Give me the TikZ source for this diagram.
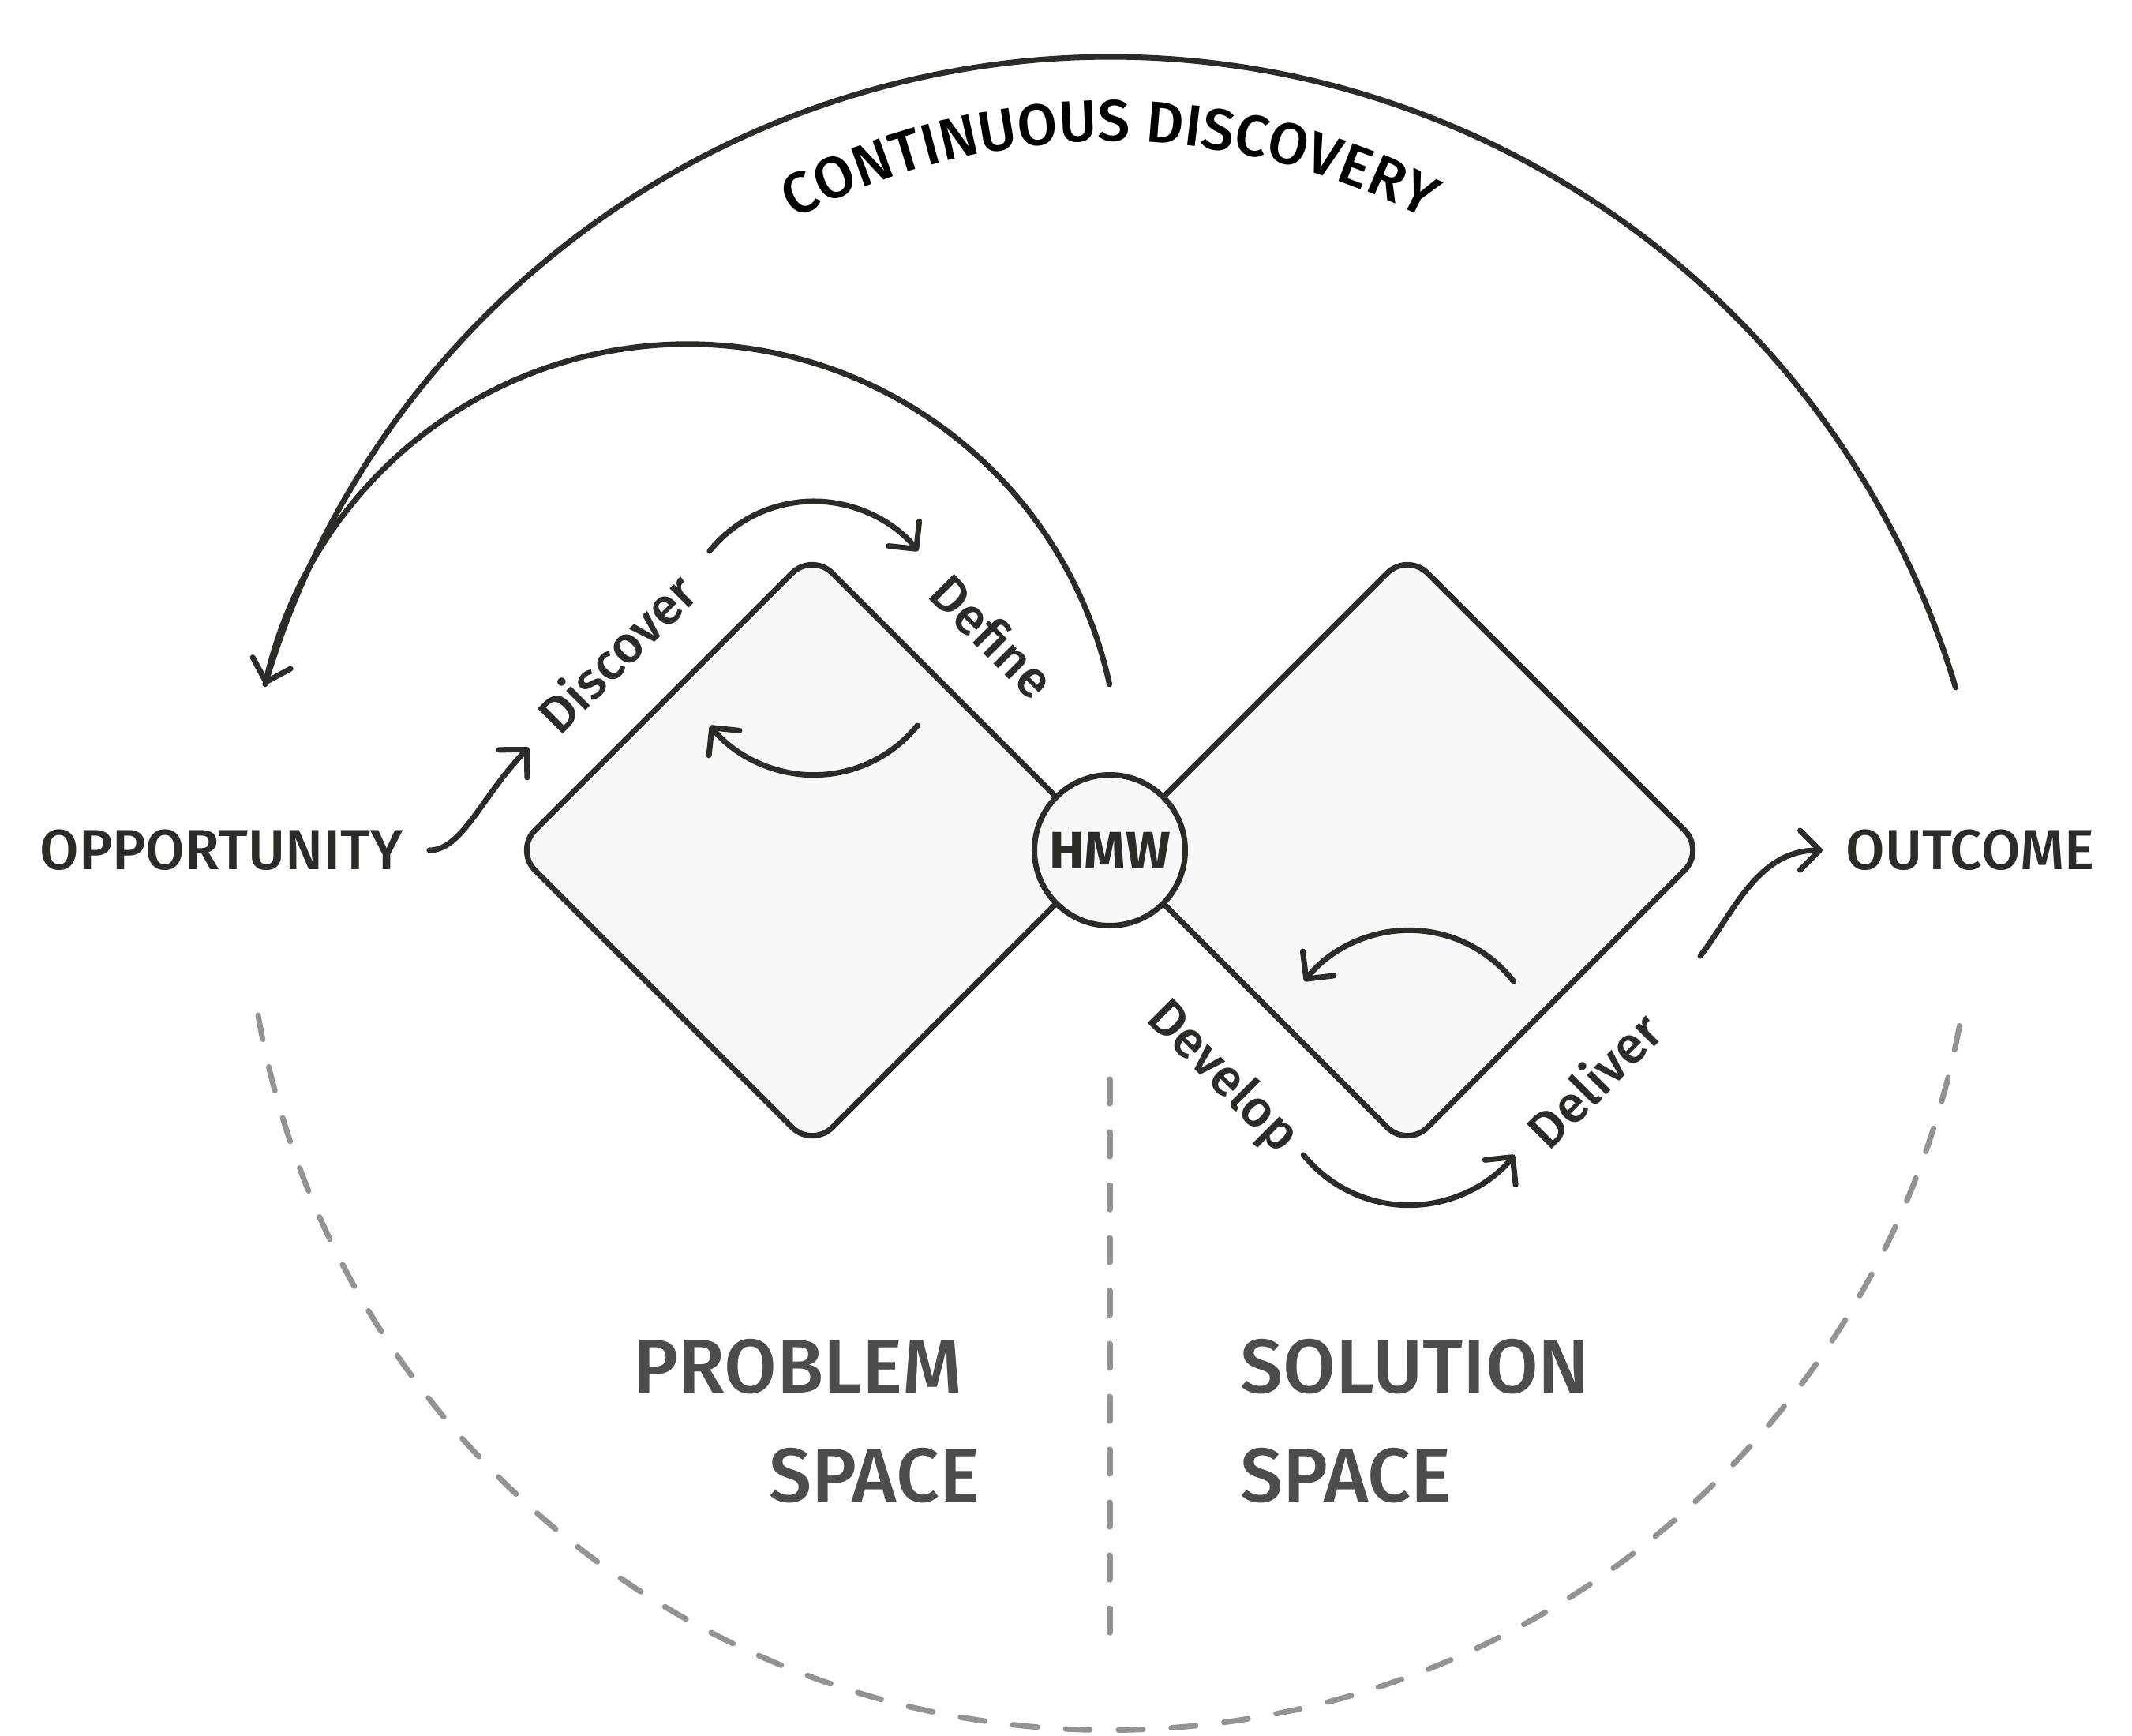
\documentclass[tikz,border=0pt]{standalone}
\usepackage{fontspec}
\setmainfont{Fira Sans}[UprightFont={* Medium}, BoldFont={* Bold}]
\usetikzlibrary{shapes.geometric, arrows.meta, decorations.text}
\definecolor{ink}{RGB}{43,44,39}
\definecolor{paper}{RGB}{248,248,248}
\definecolor{dashgray}{RGB}{147,147,147}
\definecolor{slate}{RGB}{76,76,76}

\begin{document}
\begin{tikzpicture}[
    every node/.style={text=ink},
    dia/.style={diamond, draw=ink, fill=paper, line width=2pt, aspect=1,
                minimum width=7.56cm, minimum height=7.56cm, inner sep=0pt,
                rounded corners=3.6mm},
    hub/.style={circle, draw=ink, fill=paper, line width=2pt, minimum size=1.91cm,
                inner sep=0pt, font=\fontsize{19}{23}\selectfont\bfseries},
    side/.style={inner sep=0pt, font=\fontsize{20.4}{25}\selectfont},
    lbl/.style={inner sep=0pt, text depth=0pt, font=\fontsize{18.5}{22}\selectfont},
    space/.style={inner sep=0pt, text=slate, font=\fontsize{27.5}{33}\selectfont},
    flow/.style={draw=ink, line width=2pt, line cap=round,
                 -{Straight Barb[length=2.5mm, width=5mm, round]}},
    loop/.style={draw=ink, line width=2pt, line cap=round},
    guide/.style={draw=dashgray, line width=2pt, line cap=round,
                  dash pattern=on 3.1mm off 3.6mm}
]
    \useasboundingbox (-14.06,-11.21) rectangle (12.95,10.77);

    % dashed split between problem and solution space
    \draw[guide] (-10.79,-2.089) arc[start angle=190, end angle=350, radius=10.956];
    \draw[guide] (0,-2.9) -- (0,-10.25);

    % continuous discovery loop
    \coordinate (cd-out) at (10.715,2.061);
    \coordinate (cd-in)  at (-0.004,2.103);
    \draw[flow] (cd-out) arc[start angle=16.6, end angle=163.2, radius=11.18];
    \draw[loop] (cd-in) arc[start angle=12.3, end angle=167.7, radius=5.474];
    \path[decorate, color=ink,
          decoration={text along path, text align=center,
                      text={|\fontsize{21}{25}\selectfont|CONTINUOUS DISCOVERY}}]
        (0,0.38) ++(150:8.6) arc[start angle=150, end angle=30, radius=8.6];

    % double diamond
    \node[dia] (prob) at (-3.77,0) {};
    \node[dia] (solu) at ( 3.77,0) {};
    \node[hub] (hmw) at (0,0) {HMW};

    % phase labels
    \node[lbl, rotate=45]  (dsc) at (-6.26, 2.51) {Discover};
    \node[lbl, rotate=-45] (dfn) at (-1.48, 2.72) {Define};
    \node[lbl, rotate=-45] (dvp) at ( 1.47,-2.83) {Develop};
    \node[lbl, rotate=45]  (dlv) at ( 6.12,-2.90) {Deliver};

    % start and end
    \node[side, anchor=east] (opp) at (-8.95,0) {OPPORTUNITY};
    \node[side, anchor=west] (out) at ( 9.32,0) {OUTCOME};
    \coordinate (dsc-in)  at (-7.36,1.30);
    \coordinate (dlv-out) at ( 7.48,-1.34);
    \draw[flow, shorten <=3.3mm] (opp.east) .. controls (-8.2,0) and (-7.95,0.7) .. (dsc-in);
    \draw[flow, shorten >=2.9mm] (dlv-out) .. controls (7.9,-0.8) and (8.2,0) .. (out.west);

    % iteration arrows
    \coordinate (p-top) at (-5.071, 3.790);
    \coordinate (p-low) at (-2.437, 1.580);
    \coordinate (s-top) at ( 5.114,-1.659);
    \coordinate (s-low) at ( 2.453,-3.859);
    \draw[flow] (p-top) arc[start angle=141, end angle=39, radius=1.70];
    \draw[flow] (p-low) arc[start angle=-39, end angle=-141, radius=1.69];
    \draw[flow] (s-top) arc[start angle=38, end angle=142, radius=1.68];
    \draw[flow] (s-low) arc[start angle=-141, end angle=-39, radius=1.72];

    % spaces
    \node[space, anchor=east] (pb1) at (-1.86,-6.545) {PROBLEM};
    \node[space, anchor=east] (pb2) at (-1.64,-7.92) {SPACE};
    \node[space, anchor=west] (sl1) at ( 1.65,-6.545) {SOLUTION};
    \node[space, anchor=west] (sl2) at ( 1.65,-7.92) {SPACE};
\end{tikzpicture}
\end{document}
